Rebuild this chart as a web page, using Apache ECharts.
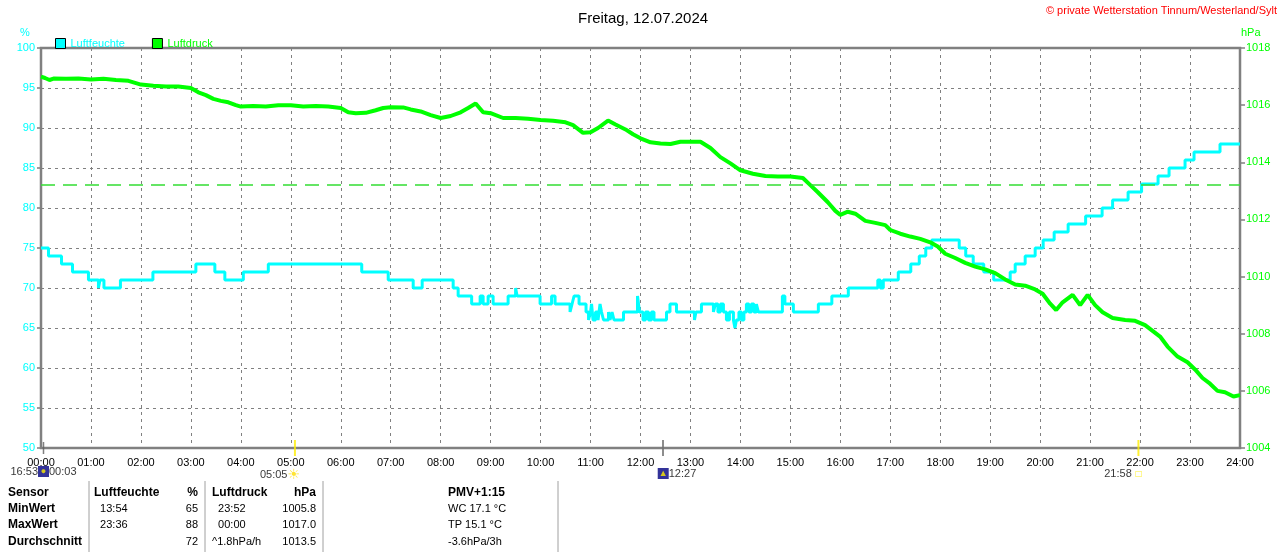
<!DOCTYPE html>
<html>
<head>
<meta charset="utf-8">
<title>Freitag, 12.07.2024</title>
<script src="https://cdn.jsdelivr.net/npm/echarts@6/dist/echarts.min.js"></script>
<style>
  html, body { margin: 0; padding: 0; background: #fff; }
  #main { width: 1280px; height: 552px; }
</style>
</head>
<body>
<div id="main"></div>
<script>
var FONT = '"Liberation Sans", Arial, "DejaVu Sans", sans-serif';

// Luftfeuchte (%), step values: value holds from this hour until the next one
var humT = [0, 0.15, 0.41, 0.63, 0.95, 1.15, 1.18, 1.26, 1.59, 2.24, 3.10, 3.48, 3.68, 4.05, 4.55, 6.42, 6.95, 7.45, 7.63,
	8.25, 8.35, 8.62, 8.79, 8.85, 8.95, 9.05, 9.35, 9.50, 9.53, 9.99, 10.22, 10.29, 10.59, 10.63, 10.67, 10.77, 10.91,
	10.96, 11.00, 11.02, 11.05, 11.10, 11.15, 11.19, 11.22, 11.26, 11.36, 11.39, 11.43, 11.47, 11.66, 11.94, 11.98,
	12.05, 12.10, 12.16, 12.22, 12.27, 12.52, 12.59, 12.72, 13.08, 13.11, 13.22, 13.46, 13.50, 13.55, 13.60, 13.66,
	13.72, 13.78, 13.86, 13.89, 13.92, 13.97, 14.02, 14.07, 14.12, 14.17, 14.22, 14.27, 14.32, 14.36, 14.84, 14.89,
	15.06, 15.56, 15.83, 16.16, 16.75, 16.80, 16.86, 17.16, 17.41, 17.58, 17.71, 17.83, 18.38, 18.51, 18.66, 18.87,
	19.07, 19.40, 19.50, 19.70, 19.90, 20.06, 20.28, 20.56, 20.91, 21.24, 21.45, 21.76, 22.03, 22.36, 22.58, 22.90,
	23.08, 23.60, 24.00];
var humV = [75, 74, 73, 72, 71, 70, 71, 70, 71, 72, 73, 72, 71, 72, 73, 72, 71, 70, 71,
	70, 69, 68, 69, 68, 69, 68, 69, 70, 69, 68, 69, 68, 67, 68, 69, 68, 67,
	66, 67, 68, 66, 67, 66, 68, 67, 66, 67, 66, 67, 66, 67, 69, 67,
	66, 67, 66, 67, 66, 67, 68, 67, 66, 67, 68, 67, 68, 67, 68, 67,
	66, 67, 66, 65, 66, 67, 66, 67, 68, 67, 68, 67, 68, 67, 69, 68,
	67, 68, 69, 70, 71, 70, 71, 72, 73, 74, 75, 76, 75, 74, 73, 72,
	71, 72, 73, 74, 75, 76, 77, 78, 79, 80, 81, 82, 83, 84, 85, 86,
	87, 88, 88];

// Luftdruck (hPa)
var presT = [0, 0.08, 0.17, 0.25, 0.5, 0.75, 1.0, 1.25, 1.5, 1.75, 2.0, 2.25, 2.5, 2.75, 3.0, 3.15, 3.3, 3.45, 3.6, 3.75,
	3.9, 4.0, 4.25, 4.5, 4.75, 5.0, 5.25, 5.5, 5.75, 6.0, 6.15, 6.3, 6.5, 6.7, 6.85, 7.0, 7.25, 7.4, 7.6, 7.8,
	8.0, 8.2, 8.4, 8.55, 8.7, 8.85, 9.0, 9.25, 9.5, 9.75, 10.0, 10.25, 10.5, 10.65, 10.85, 11.0, 11.15, 11.35, 11.5, 11.7,
	11.85, 12.0, 12.2, 12.4, 12.6, 12.8, 13.0, 13.2, 13.4, 13.6, 13.8, 14.0, 14.25, 14.5, 14.75, 15.0, 15.25, 15.4, 15.55, 15.75,
	15.9, 16.0, 16.15, 16.3, 16.5, 16.7, 16.9, 17.0, 17.2, 17.4, 17.6, 17.8, 17.95, 18.1, 18.3, 18.5, 18.7, 18.9, 19.1, 19.3,
	19.5, 19.7, 19.9, 20.05, 20.2, 20.32, 20.45, 20.65, 20.8, 20.95, 21.1, 21.25, 21.45, 21.7, 21.9, 22.1, 22.25, 22.4, 22.55, 22.75,
	22.95, 23.1, 23.25, 23.4, 23.55, 23.7, 23.87, 24.0];
var presV = [1017.0, 1016.95, 1016.88, 1016.93, 1016.92, 1016.93, 1016.90, 1016.92, 1016.88, 1016.85, 1016.72, 1016.68, 1016.65, 1016.65, 1016.60, 1016.45, 1016.35, 1016.22, 1016.15, 1016.10,
	1016.00, 1015.95, 1015.97, 1015.95, 1016.00, 1016.00, 1015.95, 1015.97, 1015.95, 1015.90, 1015.75, 1015.72, 1015.73, 1015.82, 1015.90, 1015.93, 1015.92, 1015.85, 1015.78, 1015.65,
	1015.55, 1015.62, 1015.75, 1015.90, 1016.06, 1015.75, 1015.72, 1015.55, 1015.55, 1015.52, 1015.48, 1015.45, 1015.40, 1015.30, 1015.03, 1015.05, 1015.20, 1015.46, 1015.32, 1015.15,
	1014.98, 1014.84, 1014.70, 1014.66, 1014.64, 1014.72, 1014.72, 1014.72, 1014.50, 1014.18, 1013.96, 1013.72, 1013.60, 1013.52, 1013.50, 1013.50, 1013.45, 1013.20, 1012.95, 1012.60,
	1012.30, 1012.16, 1012.27, 1012.20, 1011.95, 1011.88, 1011.80, 1011.63, 1011.50, 1011.40, 1011.32, 1011.20, 1011.05, 1010.80, 1010.65, 1010.48, 1010.35, 1010.25, 1010.12, 1009.90,
	1009.72, 1009.68, 1009.55, 1009.40, 1009.05, 1008.83, 1009.10, 1009.36, 1009.00, 1009.36, 1009.00, 1008.75, 1008.55, 1008.48, 1008.45, 1008.30, 1008.10, 1007.90, 1007.55, 1007.20,
	1007.00, 1006.75, 1006.45, 1006.25, 1006.00, 1005.95, 1005.80, 1005.85];

var refLine = 1013.2;

// sun / moon events on the time axis
var evT = [0.05, 5.083, 12.45, 21.967];
var evLabel = ['{t|16:53}{moon|●}{t|00:03}', '{t|05:05}{sun|☀}', '{moon|▲}{t|12:27}', '{t|21:58} {sq|□}'];
var evColor = ['#606060', '#ffee00', '#707070', '#ffee00'];
var evOffset = [[0, 0], [-15, 0], [14, 0], [-15, 0]];

// table below the chart
var tableHead = ['Sensor', 'Luftfeuchte', '%', 'Luftdruck', 'hPa', 'PMV+1:15'];
var tableRows = [
	['MinWert', '  13:54', '65', '  23:52', '1005.8', 'WC 17.1 °C'],
	['MaxWert', '  23:36', '88', '  00:00', '1017.0', 'TP 15.1 °C'],
	['Durchschnitt', '', '72', '^1.8hPa/h', '1013.5', '-3.6hPa/3h']
];
var colX = [8, 94, 198, 212, 316, 448];
var colAlign = ['left', 'left', 'right', 'left', 'right', 'left'];
var rowY = [493, 509, 525, 542];
var sepX = [89, 205, 323, 558];

function pad(n) { return (n < 10 ? '0' : '') + n; }

var humData = humT.map(function (t, i) { return [t, humV[i]]; });
var presData = presT.map(function (t, i) { return [t, presV[i]]; });
var evData = evT.map(function (t, i) {
	return {
		value: [t, 50],
		symbolSize: i === 0 ? [1.5, 12] : [2, 16],
		itemStyle: { color: evColor[i] },
		label: { formatter: evLabel[i], offset: evOffset[i] }
	};
});

var graphics = [
	{ type: 'text', left: 20, top: 27, style: { text: '%', fill: '#00ffff', font: '11px ' + FONT } },
	{ type: 'text', left: 1241, top: 27, style: { text: 'hPa', fill: '#00ff00', font: '11px ' + FONT } },
	{ type: 'text', right: 3, top: 5, style: { text: '© private Wetterstation Tinnum/Westerland/Sylt', fill: '#ff0000', font: '11px ' + FONT } }
];
sepX.forEach(function (x) {
	graphics.push({ type: 'line', shape: { x1: x, y1: 481, x2: x, y2: 552 }, style: { stroke: '#a0a0a0', lineWidth: 1 } });
});
tableHead.forEach(function (h, c) {
	graphics.push({ type: 'text', x: colX[c], y: rowY[0], style: { text: h, fill: '#000', font: 'bold 12px ' + FONT, textAlign: colAlign[c], textVerticalAlign: 'middle' } });
});
tableRows.forEach(function (row, r) {
	row.forEach(function (cell, c) {
		graphics.push({ type: 'text', x: colX[c], y: rowY[r + 1], style: { text: cell, fill: '#000', font: (c === 0 ? 'bold 12px ' : '11px ') + FONT, textAlign: colAlign[c], textVerticalAlign: 'middle' } });
	});
});

var myChart = echarts.init(document.getElementById('main'));
var option = {
	animation: false,
	backgroundColor: '#fff',
	textStyle: { fontFamily: FONT },
	title: {
		text: 'Freitag, 12.07.2024',
		left: 573,
		top: 6,
		textStyle: { fontSize: 15, fontWeight: 'normal', color: '#000', fontFamily: FONT }
	},
	legend: {
		left: 50,
		top: 33,
		icon: 'rect',
		itemWidth: 10,
		itemHeight: 10,
		itemGap: 27,
		itemStyle: { borderColor: '#000', borderWidth: 1 },
		textStyle: { fontSize: 11, fontFamily: FONT },
		data: [
			{ name: 'Luftfeuchte', textStyle: { color: '#00ffff' } },
			{ name: 'Luftdruck', textStyle: { color: '#00ff00' } }
		]
	},
	grid: {
		left: 41, right: 40, top: 48, bottom: 104,
		show: true,
		borderColor: '#808080',
		borderWidth: 2.5
	},
	xAxis: {
		type: 'value',
		min: 0,
		max: 24,
		interval: 1,
		axisLine: { show: false },
		axisTick: { show: false },
		axisLabel: {
			color: '#000', fontSize: 11, fontFamily: FONT, margin: 9,
			formatter: function (v) { return pad(v) + ':00'; }
		},
		splitLine: { show: true, lineStyle: { color: '#808080', type: [3, 4], width: 1 } }
	},
	yAxis: [{
		type: 'value',
		min: 50,
		max: 100,
		interval: 5,
		axisLine: { show: false },
		axisTick: { show: true, length: 4, lineStyle: { color: '#808080', width: 1.5 } },
		axisLabel: { color: '#00ffff', fontSize: 11, fontFamily: FONT, margin: 6 },
		splitLine: { show: true, lineStyle: { color: '#808080', type: [3, 4], width: 1 } }
	}, {
		type: 'value',
		min: 1004,
		max: 1018,
		interval: 2,
		position: 'right',
		axisLine: { show: false },
		axisTick: { show: true, length: 5, lineStyle: { color: '#808080', width: 1.5 } },
		axisLabel: {
			color: '#00ff00', fontSize: 11, fontFamily: FONT, margin: 6,
			formatter: function (v) { return String(v); }
		},
		splitLine: { show: false }
	}],
	series: [{
		name: 'Luftfeuchte',
		type: 'line',
		yAxisIndex: 0,
		step: 'end',
		showSymbol: false,
		data: humData,
		itemStyle: { color: '#00ffff' },
		lineStyle: { color: '#00ffff', width: 3 },
		z: 3
	}, {
		name: 'Luftdruck',
		type: 'line',
		yAxisIndex: 1,
		showSymbol: false,
		data: presData,
		itemStyle: { color: '#00ff00' },
		lineStyle: { color: '#00ff00', width: 4 },
		z: 4,
		markLine: {
			silent: true,
			symbol: ['none', 'none'],
			label: { show: false },
			lineStyle: { color: '#33dd33', type: [14, 8], width: 1.5 },
			data: [{ yAxis: refLine }]
		}
	}, {
		name: 'Ereignis',
		type: 'scatter',
		yAxisIndex: 0,
		symbol: 'rect',
		clip: false,
		z: 10,
		data: evData,
		label: {
			show: true,
			position: 'bottom',
			distance: 12,
			rich: {
				t: { fontSize: 11, color: '#000', fontFamily: FONT },
				moon: { backgroundColor: '#000080', color: '#ffee00', width: 11, height: 11, align: 'center', fontSize: 9, lineHeight: 11 },
				sun: { color: '#ffdd00', fontSize: 14, fontFamily: '"DejaVu Sans", sans-serif' },
				sq: { color: '#ffee00', fontSize: 8, fontFamily: '"DejaVu Sans", sans-serif' }
			}
		}
	}],
	graphic: graphics
};

myChart.setOption(option);
window.onresize = myChart.resize;
</script>
</body>
</html>
